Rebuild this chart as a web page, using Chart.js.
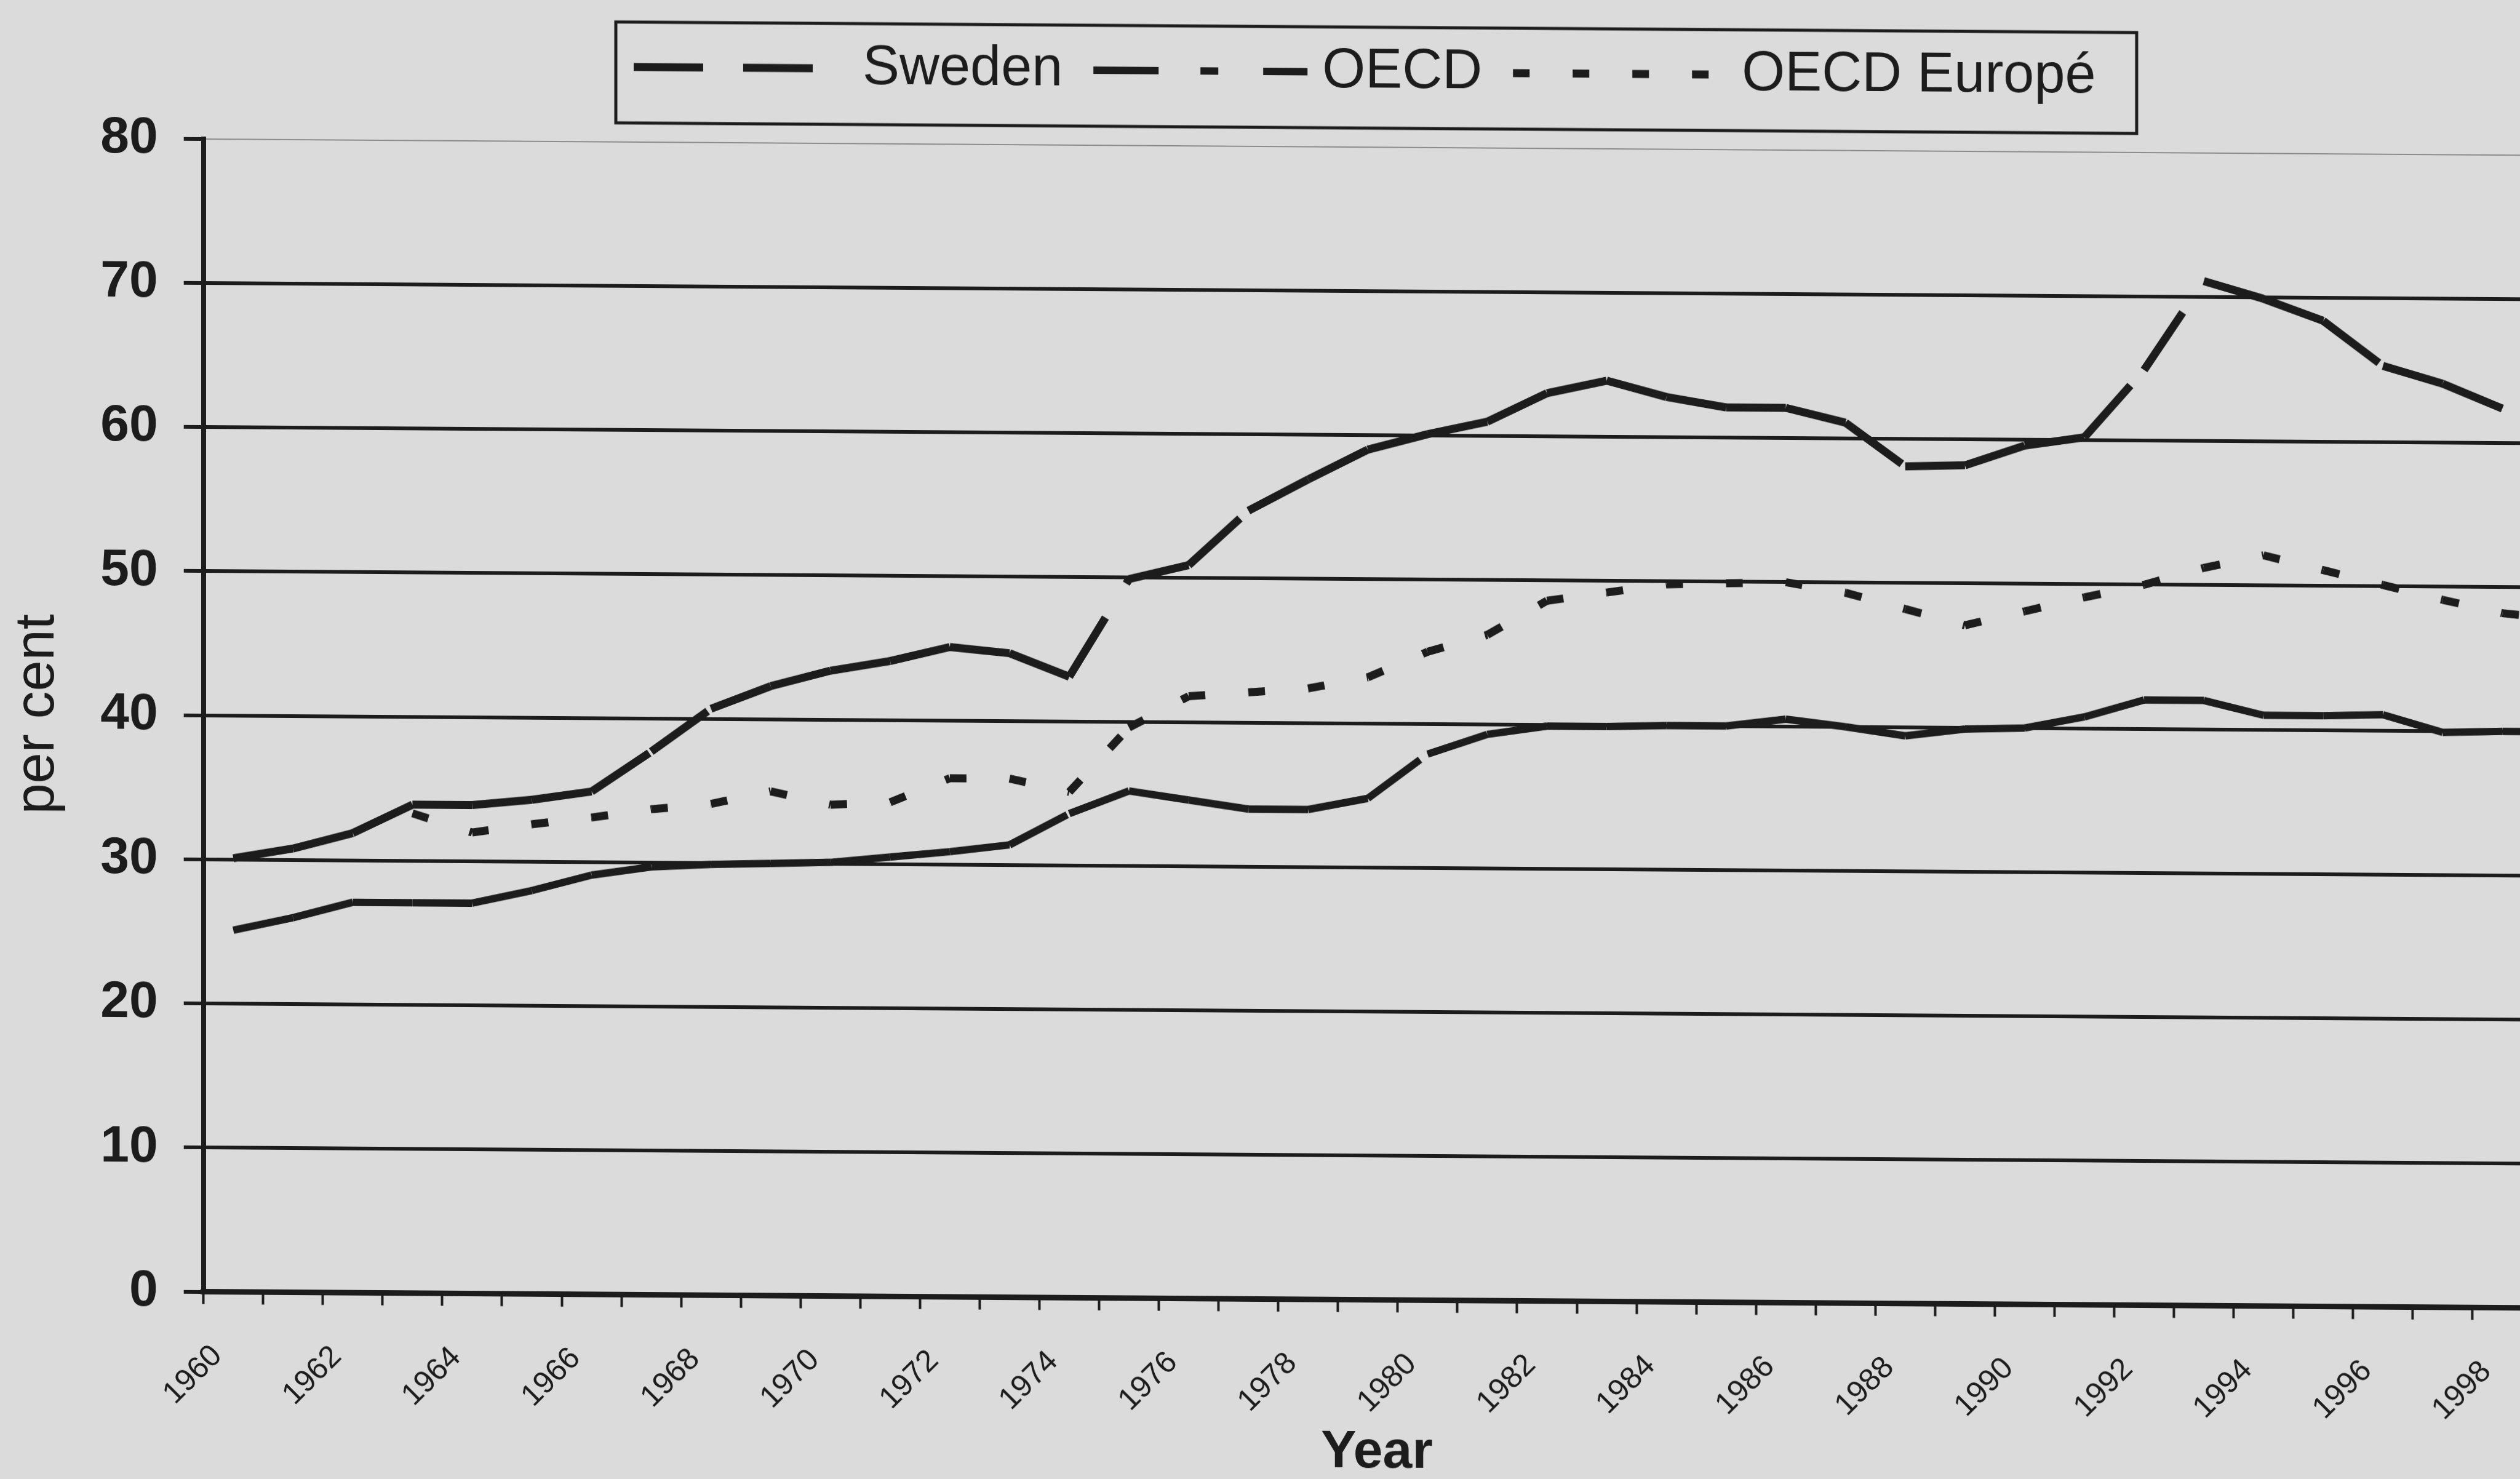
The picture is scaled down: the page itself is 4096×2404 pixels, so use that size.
<!DOCTYPE html>
<html>
<head>
<meta charset="utf-8">
<title>Sweden and OECD, per cent</title>
<script src="https://cdn.jsdelivr.net/npm/chart.js@4.4.1/dist/chart.umd.min.js"></script>
<style>
  html, body { margin: 0; padding: 0; background: #dbdbdb; overflow: hidden; }
  /* the printed page sits a little askew, so the whole chart leans with it */
  #chart { display: block; transform: skewY(0.4deg); transform-origin: 330px 0; }
</style>
</head>
<body>
<canvas id="chart" width="4293" height="2404"></canvas>
<script>
// categories (one per year) and the years that get a printed label
const years = ['1960', '1961', '1962', '1963', '1964', '1965', '1966', '1967', '1968', '1969',
  '1970', '1971', '1972', '1973', '1974', '1975', '1976', '1977', '1978', '1979',
  '1980', '1981', '1982', '1983', '1984', '1985', '1986', '1987', '1988', '1989',
  '1990', '1991', '1992', '1993', '1994', '1995', '1996', '1997', '1998', '1999'];
const labelYears = ['1960', '1962', '1964', '1966', '1968', '1970', '1972', '1974', '1976', '1978',
  '1980', '1982', '1984', '1986', '1988', '1990', '1992', '1994', '1996', '1998'];

// series values, per cent
const sweden = [30.1, 30.8, 31.9, 33.9, 33.9, 34.3, 34.9, 37.7, 40.7, 42.3,
  43.4, 44.1, 45.1, 44.7, 43.1, 49.9, 50.9, 54.7, 56.9, 59.0,
  60.1, 61.0, 63.0, 63.9, 62.8, 62.1, 62.1, 61.1, 58.1, 58.2,
  59.6, 60.2, 64.9, 71.1, 69.9, 68.4, 65.3, 64.1, 62.4, null];
const oecd = [25.1, 26.0, 27.1, 27.1, 27.1, 28.0, 29.1, 29.7, 29.9, 30.0,
  30.1, 30.5, 30.9, 31.4, 33.6, 35.2, 34.6, 34.0, 34.0, 34.8,
  37.9, 39.3, 39.9, 39.9, 40.0, 40.0, 40.5, 40.0, 39.4, 39.9,
  40.0, 40.8, 42.0, 42.0, 41.0, 41.0, 41.1, 39.9, 40.0, 40.0];
const oecdEurope = [null, null, null, 33.3, 32.0, 32.6, 33.1, 33.7, 34.1, 35.0,
  34.1, 34.3, 36.0, 36.0, 35.1, 39.6, 41.8, 42.1, 42.4, 43.2,
  45.0, 46.2, 48.6, 49.2, 49.8, 49.9, 50.0, 49.3, 48.2, 47.1,
  48.1, 49.1, 50.0, 51.2, 52.1, 51.1, 50.1, 49.1, 48.2, 47.8];

// y axis ticks
const yTicks = [0, 10, 20, 30, 40, 50, 60, 70, 80];

const INK = '#1c1c1c';
const FONT = '"Liberation Sans", Arial, Helvetica, sans-serif';

Chart.defaults.font.family = FONT;
Chart.defaults.color = INK;

// every segment between two years starts its own dash pattern, so the
// offset flips by a hair from one segment to the next
const restartDash = { borderDashOffset: (ctx) => (ctx.p0DataIndex % 2) * 0.01 };

// framed legend above the plot (samples use the series' own dashes)
// and the "Year" caption under the axis
const boxLegend = {
  id: 'boxLegend',
  afterDraw(chart) {
    const ctx = chart.ctx;
    ctx.save();
    ctx.strokeStyle = INK;
    ctx.lineWidth = 5;
    ctx.strokeRect(1001, 31, 2472, 164);

    ctx.font = '90px ' + FONT;
    ctx.fillStyle = INK;
    ctx.textBaseline = 'middle';
    ctx.lineCap = 'butt';
    const y = 104;
    let x = 1030;
    chart.data.datasets.forEach((ds) => {
      ctx.beginPath();
      ctx.setLineDash(ds.borderDash);
      ctx.lineWidth = ds.borderWidth;
      ctx.moveTo(x, y);
      ctx.lineTo(x + 348, y);
      ctx.stroke();
      ctx.setLineDash([]);
      x += 348 + 24;
      ctx.fillText(ds.label, x, y);
      x += ctx.measureText(ds.label).width + 50;
    });

    ctx.font = 'bold 86px ' + FONT;
    ctx.textAlign = 'center';
    ctx.fillText('Year', 2238, 2348);
    ctx.restore();
  }
};

new Chart(document.getElementById('chart'), {
  type: 'line',
  data: {
    labels: years,
    datasets: [
      {
        label: 'Sweden',
        data: sweden,
        borderColor: INK,
        borderWidth: 13,
        borderDash: [113, 65],
        segment: restartDash
      },
      {
        label: 'OECD',
        data: oecd,
        borderColor: INK,
        borderWidth: 12,
        borderDash: [106, 68, 29, 73],
        segment: restartDash
      },
      {
        label: 'OECD Europé',
        data: oecdEurope,
        borderColor: INK,
        borderWidth: 13,
        borderDash: [27, 70],
        segment: restartDash
      }
    ]
  },
  options: {
    responsive: false,
    devicePixelRatio: 1,
    animation: false,
    events: [],
    layout: { padding: { top: 225.7, left: 0, right: 80, bottom: 0 } },
    elements: {
      point: { radius: 0, hoverRadius: 0 },
      line: { tension: 0, fill: false, borderCapStyle: 'butt' }
    },
    plugins: {
      legend: { display: false },
      tooltip: { enabled: false }
    },
    scales: {
      x: {
        type: 'category',
        offset: true,
        grid: {
          offset: true,
          drawOnChartArea: false,
          drawTicks: true,
          tickLength: 20,
          tickWidth: 4,
          tickColor: INK
        },
        border: { display: true, color: INK, width: 9 },
        ticks: {
          autoSkip: false,
          minRotation: 45,
          maxRotation: 45,
          padding: 55,
          labelOffset: -26,
          color: INK,
          font: { size: 50 },
          callback: (value, index) => (labelYears.includes(years[index]) ? years[index] : '')
        },
        afterFit: (scale) => { scale.height = 304.3; }
      },
      y: {
        min: 0,
        max: 80,
        afterBuildTicks: (scale) => { scale.ticks = yTicks.map((v) => ({ value: v })); },
        grid: {
          color: (ctx) => (ctx.tick && ctx.tick.value === 80 ? '#8c8c8c' : INK),
          lineWidth: (ctx) => (ctx.tick && ctx.tick.value === 80 ? 2 : 6),
          drawTicks: true,
          tickLength: 32,
          tickWidth: 6,
          tickColor: INK
        },
        border: { display: true, color: INK, width: 8 },
        ticks: {
          padding: 42,
          color: INK,
          font: { size: 84, weight: 'bold' }
        },
        title: {
          display: true,
          text: 'per cent',
          color: INK,
          font: { size: 90, lineHeight: 1 },
          padding: { top: 17, bottom: 0 }
        },
        afterFit: (scale) => { scale.width = 330.7; }
      }
    }
  },
  plugins: [boxLegend]
});
</script>
</body>
</html>
